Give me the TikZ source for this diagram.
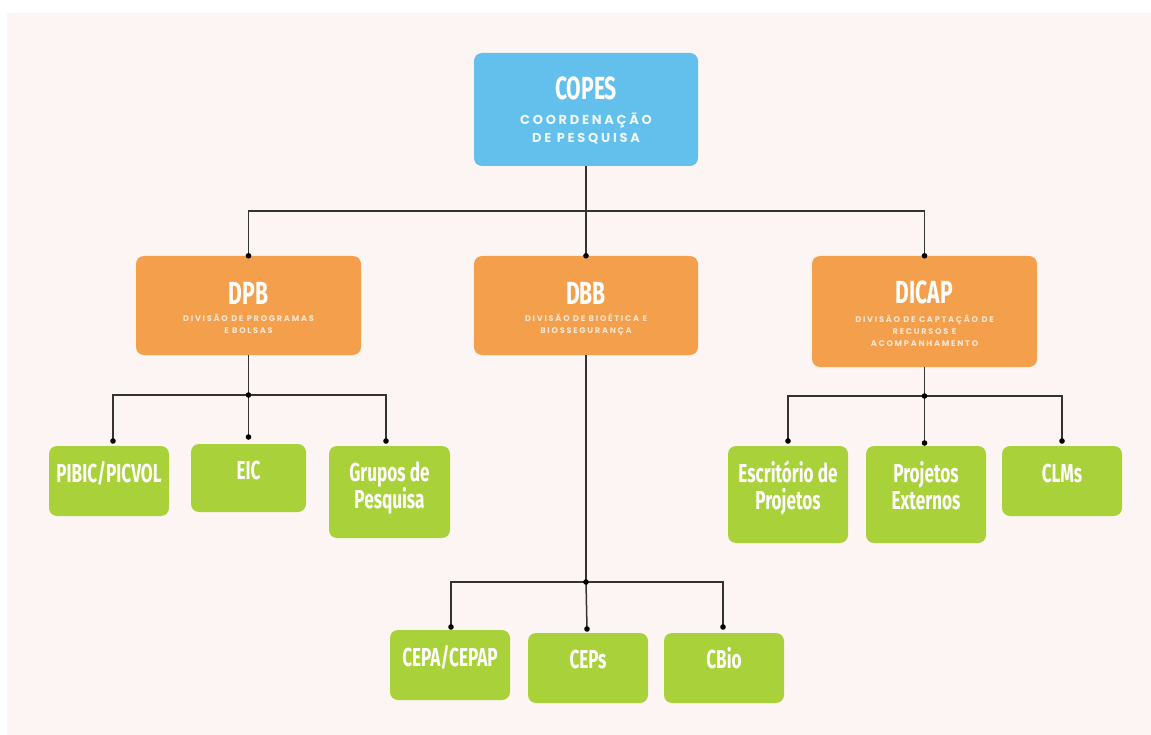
\documentclass[tikz,border=0pt]{standalone}
\usepackage{fontspec}
\newfontfamily\titlefont[FakeStretch=0.66]{Fira Sans}
\newfontfamily\subfont[LetterSpace=21]{Poppins}
\definecolor{bgpink}{HTML}{FDF5F3}
\definecolor{cblue}{HTML}{63BFEC}
\definecolor{corange}{HTML}{F49F4B}
\definecolor{cgreen}{HTML}{A9D13A}
\definecolor{cline}{HTML}{333333}
\definecolor{subblue}{HTML}{EEF8FD}
\definecolor{suborange}{HTML}{FCE6D0}
\tikzset{
  box/.style={rectangle, rounded corners=8pt, draw=none, inner sep=0pt},
  bluebox/.style={box, fill=cblue},
  orangebox/.style={box, fill=corange},
  greenbox/.style={box, fill=cgreen},
  bigtitle/.style={text=white, anchor=base, inner sep=0pt, font=\titlefont\bfseries\fontsize{32}{32}\selectfont},
  greentext/.style={text=white, anchor=base, inner sep=0pt, font=\titlefont\bfseries\fontsize{26}{27}\selectfont},
  subblue/.style={text=subblue, anchor=base, inner sep=0pt, font=\subfont\bfseries\fontsize{13}{13}\selectfont},
  suborange/.style={text=suborange, anchor=base, inner sep=0pt, font=\subfont\bfseries\fontsize{8.2}{8.2}\selectfont},
  conn/.style={draw=cline, line width=1.5pt},
}
\begin{document}
\begin{tikzpicture}[x=1pt,y=-1pt]
\useasboundingbox (0,0) rectangle (1151,735);
\fill[white] (0,0) rectangle (1151,735);
\fill[bgpink] (7,13) rectangle (1151,735);

% level 0
\node[bluebox, minimum width=224pt, minimum height=113pt] (copes) at (586,109.5) {};
\node[bigtitle] (copesT) at (586,100) {COPES};
\node[subblue] (copesS1) at (586,125) {COORDENAÇÃO};
\node[subblue] (copesS2) at (586,143) {DE PESQUISA};

% level 1
\node[orangebox, minimum width=225pt, minimum height=99pt] (dpb) at (248.5,305.5) {};
\node[bigtitle] (dpbT) at (248.5,305) {DPB};
\node[suborange] (dpbS1) at (248.5,322) {DIVISÃO DE PROGRAMAS};
\node[suborange] (dpbS2) at (248.5,334) {E BOLSAS};

\node[orangebox, minimum width=224pt, minimum height=99pt] (dbb) at (586,305.5) {};
\node[bigtitle] (dbbT) at (586,305) {DBB};
\node[suborange] (dbbS1) at (586,322) {DIVISÃO DE BIOÉTICA E};
\node[suborange] (dbbS2) at (586,334) {BIOSSEGURANÇA};

\node[orangebox, minimum width=225pt, minimum height=111pt] (dicap) at (924.5,311.5) {};
\node[bigtitle] (dicapT) at (924.5,304) {DICAP};
\node[suborange] (dicapS1) at (924.5,323) {DIVISÃO DE CAPTAÇÃO DE};
\node[suborange] (dicapS2) at (924.5,334.5) {RECURSOS E};
\node[suborange] (dicapS3) at (924.5,346) {ACOMPANHAMENTO};

% level 2 - DPB
\node[greenbox, minimum width=120pt, minimum height=70pt] (pibic) at (109,481) {};
\node[greentext] (pibicT) at (109,482) {PIBIC/PICVOL};
\node[greenbox, minimum width=115pt, minimum height=68pt] (eic) at (248.5,478) {};
\node[greentext] (eicT) at (248.5,479) {EIC};
\node[greenbox, minimum width=121pt, minimum height=92pt] (grupos) at (389.5,492) {};
\node[greentext] (gruposT1) at (389.5,481) {Grupos de};
\node[greentext] (gruposT2) at (389.5,508) {Pesquisa};

% level 2 - DICAP
\node[greenbox, minimum width=120pt, minimum height=97pt] (escr) at (788,494.5) {};
\node[greentext] (escrT1) at (788,482) {Escritório de};
\node[greentext] (escrT2) at (788,509) {Projetos};
\node[greenbox, minimum width=120pt, minimum height=97pt] (projext) at (926,494.5) {};
\node[greentext] (projextT1) at (926,482) {Projetos};
\node[greentext] (projextT2) at (926,509) {Externos};
\node[greenbox, minimum width=120pt, minimum height=70pt] (clms) at (1062,481) {};
\node[greentext] (clmsT) at (1062,482) {CLMs};

% level 2 - DBB
\node[greenbox, minimum width=120pt, minimum height=70pt] (cepa) at (450,665) {};
\node[greentext] (cepaT) at (450,666) {CEPA/CEPAP};
\node[greenbox, minimum width=120pt, minimum height=70pt] (ceps) at (588,668) {};
\node[greentext] (cepsT) at (588,668) {CEPs};
\node[greenbox, minimum width=120pt, minimum height=70pt] (cbio) at (724,668) {};
\node[greentext] (cbioT) at (724,668) {CBio};

% coordinates
\coordinate (j1) at (586,211);
\coordinate (jd) at (248.5,395);
\coordinate (jc) at (924.5,396);
\coordinate (jb) at (586,582);
\coordinate (pibicE) at (113,441);
\coordinate (eicE) at (248.5,437);
\coordinate (gruposE) at (386,441);
\coordinate (escrE) at (788,441);
\coordinate (projextE) at (924.5,443);
\coordinate (clmsE) at (1062,441);
\coordinate (cepaE) at (451,627);
\coordinate (cepsE) at (587,629);
\coordinate (cbioE) at (723,627);

% connectors
\draw[conn] (copes.south) -- (dbb.north);
\draw[conn] (dpb.north) -- (dpb.north |- j1) -- (dicap.north |- j1) -- (dicap.north);

\draw[conn] (dpb.south) -- (jd);
\draw[conn] (pibicE) |- (jd) -| (gruposE);
\draw[conn] (jd) -- (eicE);

\draw[conn] (dicap.south) -- (jc);
\draw[conn] (escrE) |- (jc) -| (clmsE);
\draw[conn] (jc) -- (projextE);

\draw[conn] (dbb.south) -- (jb);
\draw[conn] (cepaE) |- (jb) -| (cbioE);
\draw[conn] (jb) -- (cepsE);

% dots
\foreach \p in {dpb.north, dbb.north, dicap.north, jd, jc, jb, pibicE, eicE, gruposE, escrE, projextE, clmsE, cepaE, cepsE, cbioE}
  \fill[black] (\p) circle[radius=2.8pt];
\end{tikzpicture}
\end{document}
